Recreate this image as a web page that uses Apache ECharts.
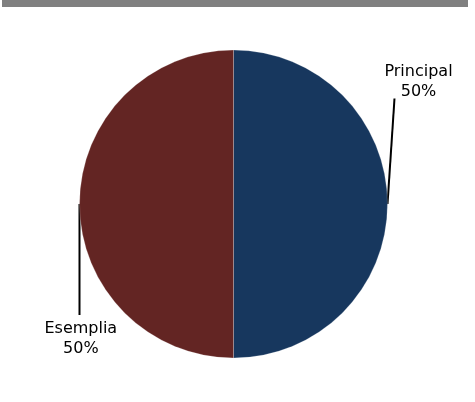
<!DOCTYPE html>
<html>
<head>
<meta charset="utf-8">
<script src="https://cdn.jsdelivr.net/npm/echarts@6/dist/echarts.min.js"></script>
<style>html,body{margin:0;padding:0;background:#fff;}#c{width:475px;height:402px;}</style>
</head>
<body>
<div id="c"></div>
<script>
const categories = ['Principal', 'Esemplia'];
const values = [50, 50];
const colors = ['#17375E', '#632523'];

const chart = echarts.init(document.getElementById('c'), null, {renderer: 'canvas'});
const labelCfg = {
  'Principal': {x: 418.5, y: 81.7, lineEnd: [394.5, 98.5]},
  'Esemplia': {x: 80.8, y: 339, lineEnd: [79.5, 315]}
};
chart.setOption({
  backgroundColor: '#ffffff',
  animation: false,
  graphic: [{
    type: 'rect', shape: {x: 2, y: 0, width: 466, height: 7},
    style: {fill: '#808080'}, silent: true
  }],
  series: [{
    type: 'pie',
    center: [233.5, 204],
    radius: 154,
    startAngle: 90,
    clockwise: true,
    data: categories.map((c, i) => ({
      name: c, value: values[i],
      itemStyle: {color: colors[i]}
    })),
    itemStyle: {borderColor: 'rgba(255,255,255,0.35)', borderWidth: 0.6},
    label: {
      show: true,
      position: 'outside',
      formatter: '{b}\n{d}%',
      fontFamily: 'DejaVu Sans, sans-serif',
      fontSize: 16,
      lineHeight: 19.5,
      color: '#000',
      align: 'center',
      overflow: 'none'
    },
    labelLine: {show: true, length: 10, length2: 0, lineStyle: {color: '#000', width: 2}},
    labelLayout: function (p) {
      const cfg = labelCfg[categories[p.dataIndex]];
      const start = p.labelLinePoints ? p.labelLinePoints[0] : null;
      const out = {x: cfg.x, y: cfg.y, align: 'center', verticalAlign: 'middle'};
      if (start) {
        out.labelLinePoints = [start.slice(), cfg.lineEnd.slice(), cfg.lineEnd.slice()];
      }
      return out;
    },
    emphasis: {disabled: true}
  }]
});
</script>
</body>
</html>
